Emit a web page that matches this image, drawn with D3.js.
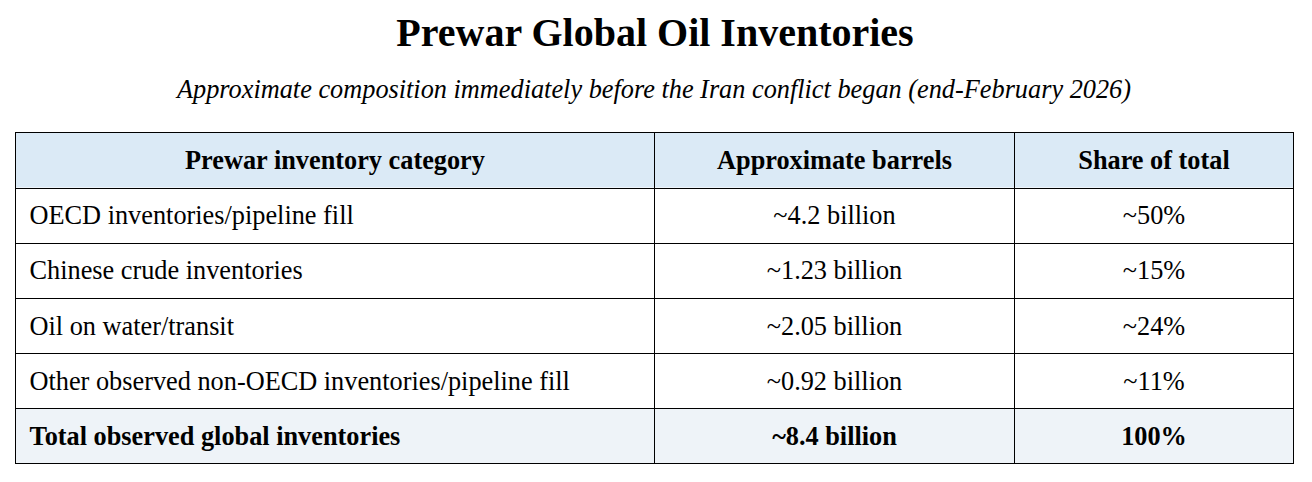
<!DOCTYPE html>
<html>
<head>
<meta charset="utf-8">
<script src="https://cdn.jsdelivr.net/npm/d3@7.9.0/dist/d3.min.js"></script>
<style>
  body { margin: 0; background: #fff; }
  svg { display: block; font-family: "Liberation Serif", "Times New Roman", serif; }
</style>
</head>
<body>
<div id="chart"></div>
<script>
const title = 'Prewar Global Oil Inventories';
const subtitle = 'Approximate composition immediately before the Iran conflict began (end-February 2026)';
const headers = ['Prewar inventory category', 'Approximate barrels', 'Share of total'];
const categories = [
  'OECD inventories/pipeline fill',
  'Chinese crude inventories',
  'Oil on water/transit',
  'Other observed non-OECD inventories/pipeline fill',
  'Total observed global inventories'
];
const barrels = ['~4.2 billion', '~1.23 billion', '~2.05 billion', '~0.92 billion', '~8.4 billion'];
const shares = ['~50%', '~15%', '~24%', '~11%', '100%'];

const width = 1312, height = 482;
const tbl = { left: 15.5, right: 1293.5, top: 132.5, bottom: 463.5 };
const colEdges = [tbl.left, 654.5, 1014.5, tbl.right];
const cellFont = 26.3;

const svg = d3.select('#chart').append('svg')
  .attr('width', width).attr('height', height);

svg.append('text')
  .attr('x', 655).attr('y', 46)
  .attr('text-anchor', 'middle')
  .attr('font-size', 40).attr('font-weight', 'bold')
  .text(title);

svg.append('text')
  .attr('x', 654).attr('y', 97.5)
  .attr('text-anchor', 'middle')
  .attr('font-size', 26.3).attr('font-style', 'italic')
  .text(subtitle);

// rows: header + body rows
const rowKeys = ['header', ...categories.map((d, i) => i)];
const y = d3.scaleBand().domain(rowKeys).range([tbl.top, tbl.bottom]);

const rows = [headers, ...categories.map((c, i) => [c, barrels[i], shares[i]])];
const lastIdx = rows.length - 1;

const g = svg.append('g');

// row backgrounds
g.selectAll('rect.bg')
  .data(rows)
  .join('rect')
  .attr('class', 'bg')
  .attr('x', tbl.left).attr('width', tbl.right - tbl.left)
  .attr('y', (d, i) => y(rowKeys[i])).attr('height', y.bandwidth())
  .attr('fill', (d, i) => i === 0 ? '#dbeaf6' : i === lastIdx ? '#eef3f8' : '#fff');

// cell text
rows.forEach((r, i) => {
  const bold = i === 0 || i === lastIdx;
  g.selectAll(null)
    .data(r)
    .join('text')
    .attr('x', (d, j) => (i > 0 && j === 0) ? colEdges[0] + 14 : (colEdges[j] + colEdges[j + 1]) / 2)
    .attr('y', y(rowKeys[i]) + y.bandwidth() / 2 + 9)
    .attr('text-anchor', (d, j) => (i > 0 && j === 0) ? 'start' : 'middle')
    .attr('font-size', cellFont)
    .attr('font-weight', bold ? 'bold' : 'normal')
    .attr('fill', '#000')
    .text(d => d);
});

// horizontal lines
g.selectAll('line.h')
  .data(rowKeys.slice(1))
  .join('line')
  .attr('class', 'h')
  .attr('x1', tbl.left).attr('x2', tbl.right)
  .attr('y1', d => Math.round(y(d)) + 0.5).attr('y2', d => Math.round(y(d)) + 0.5)
  .attr('stroke', '#000').attr('stroke-width', 1);

// vertical dividers
g.selectAll('line.v')
  .data(colEdges.slice(1, -1))
  .join('line')
  .attr('class', 'v')
  .attr('x1', d => d).attr('x2', d => d)
  .attr('y1', tbl.top).attr('y2', tbl.bottom)
  .attr('stroke', '#000').attr('stroke-width', 1);

// outer border
g.append('rect')
  .attr('x', tbl.left).attr('y', tbl.top)
  .attr('width', tbl.right - tbl.left).attr('height', tbl.bottom - tbl.top)
  .attr('fill', 'none').attr('stroke', '#000').attr('stroke-width', 1);
</script>
</body>
</html>
